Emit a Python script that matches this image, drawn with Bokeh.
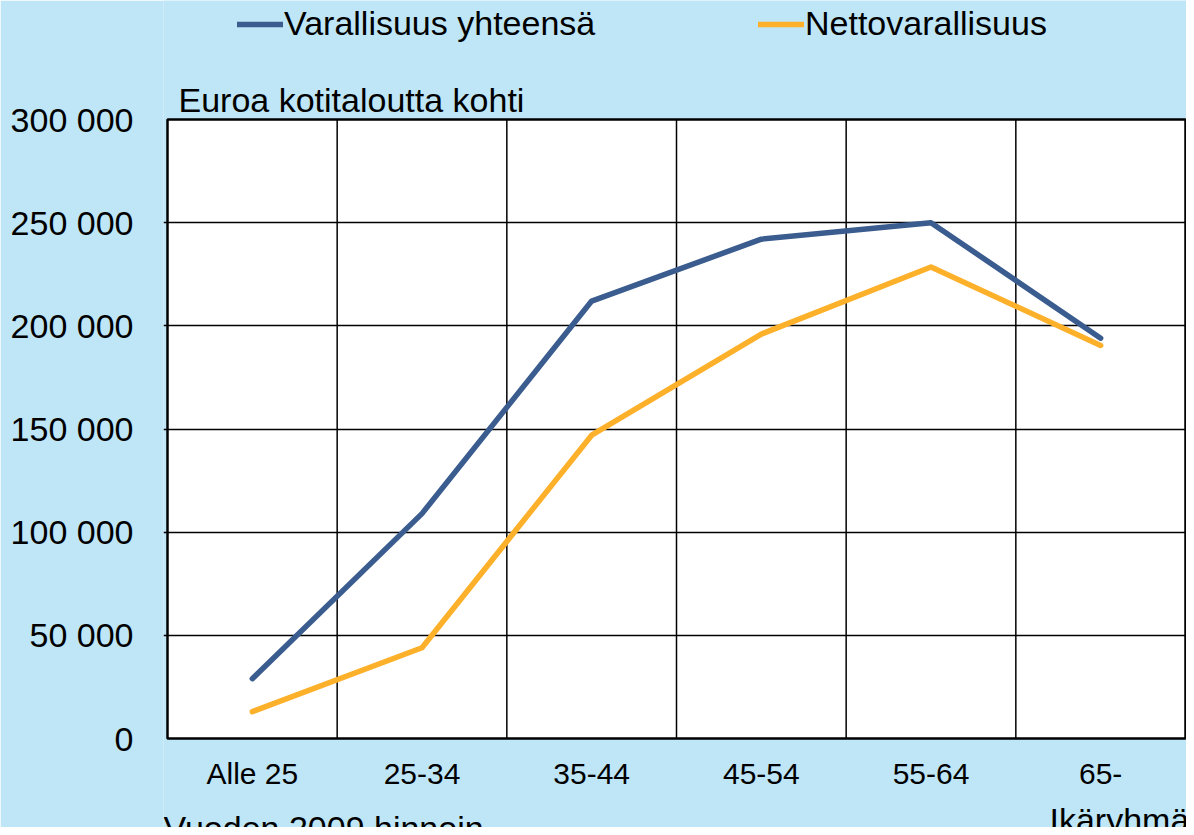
from bokeh.plotting import figure
from bokeh.models import Range1d, FixedTicker, Legend, LegendItem, Label, BoxAnnotation
from bokeh.core.properties import value
from bokeh.embed import file_html
from bokeh.resources import INLINE

# ---- data -------------------------------------------------------------
age_groups = ["Alle 25", "25-34", "35-44", "45-54", "55-64", "65-"]
total_wealth = [29000, 109000, 212000, 242000, 250000, 194000]
net_wealth = [13000, 44000, 147000, 196000, 228500, 190500]
y_ticks = [0, 50000, 100000, 150000, 200000, 250000, 300000]
y_tick_labels = ["0", "50 000", "100 000", "150 000", "200 000", "250 000", "300 000"]
series_names = ["Varallisuus yhteensä", "Nettovarallisuus"]
y_title = "Euroa kotitaloutta kohti"
x_title = "Ikäryhmä"
note = "Vuoden 2009 hinnoin"

# ---- style / layout ---------------------------------------------------
FONT = "Liberation Sans"
BG = "#BEE6F7"
BLUE = "#3A5C8E"
ORANGE = "#FDB02A"

W, H = 1186, 827            # canvas
FRAME_LEFT = 163            # left edge of the drawing frame (px)
LEFT, RIGHT = 167, 1185     # plot-area left / right edge (px)
TOP, BOTTOM = 119, 738      # plot-area top / bottom (px)
SHIFT = 11                  # alphabetic-baseline correction (px)

n = len(age_groups)
x_pos = [i + 0.5 for i in range(n)]
x_per_px = n / (RIGHT - LEFT)
x_range = Range1d(-(LEFT - FRAME_LEFT) * x_per_px, n + (W - RIGHT) * x_per_px)
ymin, ymax = y_ticks[0], y_ticks[-1]
per_px = (ymax - ymin) / (BOTTOM - TOP)
y_range = Range1d(ymin - (H - BOTTOM) * per_px, ymax + TOP * per_px)

p = figure(
    width=W, height=H,
    x_range=x_range, y_range=y_range,
    output_backend="svg", toolbar_location=None,
    min_border_left=FRAME_LEFT, min_border_right=0,
    min_border_top=0, min_border_bottom=0,
)
p.background_fill_color = BG
p.border_fill_color = BG
p.outline_line_color = None

# white plot area
p.add_layout(BoxAnnotation(left=0, right=n, bottom=ymin, top=ymax,
                           fill_color="white", fill_alpha=1,
                           line_alpha=0, level="image"))

# y axis (real axis)
p.yaxis.ticker = FixedTicker(ticks=y_ticks)
p.yaxis.major_label_overrides = {t: lab for t, lab in zip(y_ticks, y_tick_labels)}
p.yaxis.axis_line_color = None
p.yaxis.major_tick_line_color = None
p.yaxis.minor_tick_line_color = None
p.yaxis.major_tick_in = 0
p.yaxis.major_tick_out = 0
p.yaxis.minor_tick_in = 0
p.yaxis.minor_tick_out = 0
p.yaxis.major_label_text_font = FONT
p.yaxis.major_label_text_font_size = "34px"
p.yaxis.major_label_text_color = "black"
p.yaxis.major_label_standoff = 30
p.xaxis.visible = False

# grid
p.xgrid.visible = False
p.ygrid.ticker = FixedTicker(ticks=y_ticks[1:-1])
p.ygrid.grid_line_color = "black"
p.ygrid.grid_line_width = 1.5
p.ygrid.bounds = (0, n)
bounds = list(range(1, n))
p.segment(x0=bounds, x1=bounds, y0=[ymin] * len(bounds), y1=[ymax] * len(bounds),
          line_color="black", line_width=1.5)

# frame of the plot area
p.add_layout(BoxAnnotation(left=0, right=n, bottom=ymin, top=ymax,
                           fill_alpha=0, line_color="black", line_alpha=1,
                           line_width=2.5, line_dash="solid", level="underlay"))

# category labels under the plot area
p.text(x=x_pos, y=[ymin] * n, text=age_groups, y_offset=46 - SHIFT,
       text_align="center", text_baseline="alphabetic",
       text_font=value(FONT), text_font_size="30px", text_color="black")

# lines
r1 = p.line(x_pos, total_wealth, line_color=BLUE, line_width=5.5,
            line_cap="round", line_join="round")
r2 = p.line(x_pos, net_wealth, line_color=ORANGE, line_width=5.5,
            line_cap="round", line_join="round")

# legends (two separately placed items, inside the full-height frame)
for name, rend, lx in ((series_names[0], r1, 237), (series_names[1], r2, 758)):
    lg = Legend(items=[LegendItem(label=name, renderers=[rend])],
                location=(lx - FRAME_LEFT, H - 43), orientation="horizontal",
                glyph_width=46, glyph_height=36, label_height=36,
                label_standoff=1, padding=0, margin=0, spacing=0,
                label_text_font=FONT, label_text_font_size="34px",
                label_text_color="black", label_text_baseline="middle",
                background_fill_alpha=0, border_line_color=None)
    p.add_layout(lg)

# texts (baselines given in picture px from the top)
for txt, tx, base in ((y_title, 178, 110), (note, 163, 838), (x_title, 1049, 830)):
    p.add_layout(Label(x=tx - FRAME_LEFT, y=H - base + SHIFT,
                       x_units="screen", y_units="screen",
                       text=txt, text_font=FONT, text_font_size="34px",
                       text_color="black", text_baseline="alphabetic"))

open("out.html", "w").write(file_html(p, INLINE))
